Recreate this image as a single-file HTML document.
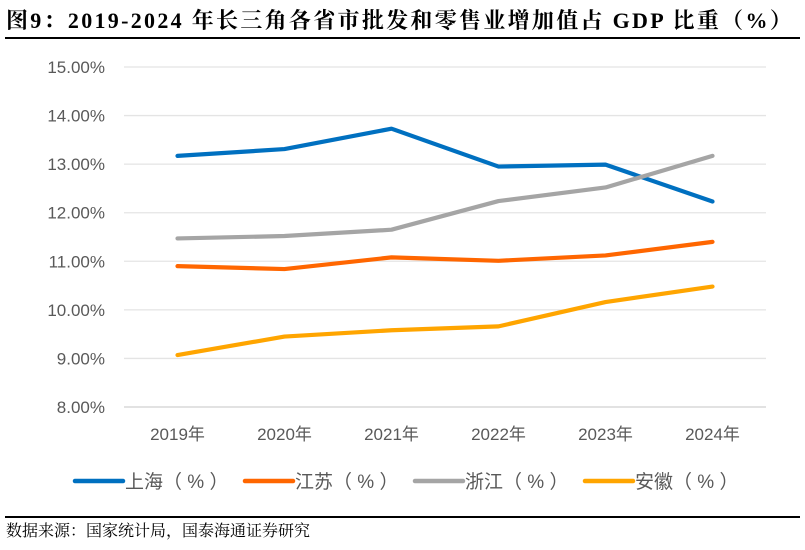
<!DOCTYPE html>
<html><head><meta charset="utf-8">
<style>
html,body{margin:0;padding:0;background:#fff;}
body{width:805px;height:550px;position:relative;overflow:hidden;}
#title{position:absolute;left:6px;top:4px;font:bold 22px "Liberation Serif","Noto Serif CJK SC",serif;letter-spacing:2.3px;color:#000;white-space:nowrap;}
#topline{position:absolute;left:5px;top:37px;width:795px;height:2px;background:#000;}
#botline{position:absolute;left:5px;top:516px;width:795px;height:2px;background:#000;}
#source{position:absolute;left:6px;top:518px;font:16px "Liberation Serif","Noto Serif CJK SC",serif;color:#000;white-space:nowrap;}
svg{position:absolute;left:0;top:0;}
</style></head><body>
<div id="title">图9：2019-2024 年长三角各省市批发和零售业增加值占 GDP 比重（%）</div>
<div id="topline"></div>
<svg id="chart" width="805" height="550"></svg>
<div id="botline"></div>
<div id="source">数据来源：国家统计局，国泰海通证券研究</div>
<script>
const categories = ["2019年","2020年","2021年","2022年","2023年","2024年"];
const shanghai = [13.17,13.31,13.73,12.95,12.99,12.23];
const jiangsu = [10.90,10.84,11.08,11.01,11.12,11.40];
const zhejiang = [11.47,11.52,11.65,12.24,12.52,13.17];
const anhui = [9.07,9.45,9.58,9.66,10.16,10.48];
const yTicks = [8,9,10,11,12,13,14,15];
const seriesNames = ["上海（ % ）","江苏（ % ）","浙江（ % ）","安徽（ % ）"];
const colors = ["#0070C0","#FF6600","#A5A5A5","#FFA500"];
const seriesData = [shanghai,jiangsu,zhejiang,anhui];

const NS="http://www.w3.org/2000/svg";
const svgEl=document.getElementById('chart');
const plotL=124,plotR=766,plotT=67,plotB=407,ymin=8,ymax=15;
const band=(plotR-plotL)/categories.length;
const xs=i=>plotL+(i+0.5)*band;
const ys=v=>plotB-(v-ymin)/(ymax-ymin)*(plotB-plotT);
function mk(tag,attrs){const e=document.createElementNS(NS,tag);for(const k in attrs)e.setAttribute(k,attrs[k]);svgEl.appendChild(e);return e;}
const font='"Liberation Sans","Noto Sans CJK SC",sans-serif';
yTicks.forEach(t=>{
  const g=mk('line',{x1:plotL,x2:plotR,y1:ys(t),y2:ys(t),stroke:t===ymin?'#d0d0d0':'#e4e4e4','stroke-width':1.3});
  
  
  const tx=mk('text',{x:105,y:ys(t)+6,'text-anchor':'end','font-size':17,fill:'#595959','font-family':font});
  tx.textContent=t.toFixed(2)+'%';
  
  
});
categories.forEach((c,i)=>{
  const tx=mk('text',{x:xs(i),y:440,'text-anchor':'middle','font-size':17,fill:'#595959','font-family':font});
  tx.textContent=c;
  
  
});
seriesData.forEach((d,s)=>{
  const p=mk('polyline',{points:d.map((v,i)=>xs(i)+','+ys(v)).join(' '),fill:'none',stroke:colors[s],'stroke-width':4.2,'stroke-linecap':'round','stroke-linejoin':'round'});
  
  
});
const legX=[75,245,415,585];
seriesNames.forEach((n,s)=>{
  const l=mk('line',{x1:legX[s],x2:legX[s]+48,y1:481,y2:481,stroke:colors[s],'stroke-width':4.5,'stroke-linecap':'round'});
  
  
  const t=mk('text',{x:legX[s]+50,y:488,'font-size':19,fill:'#595959','font-family':font});
  t.textContent=n;
  
  
});
</script>
</body></html>
